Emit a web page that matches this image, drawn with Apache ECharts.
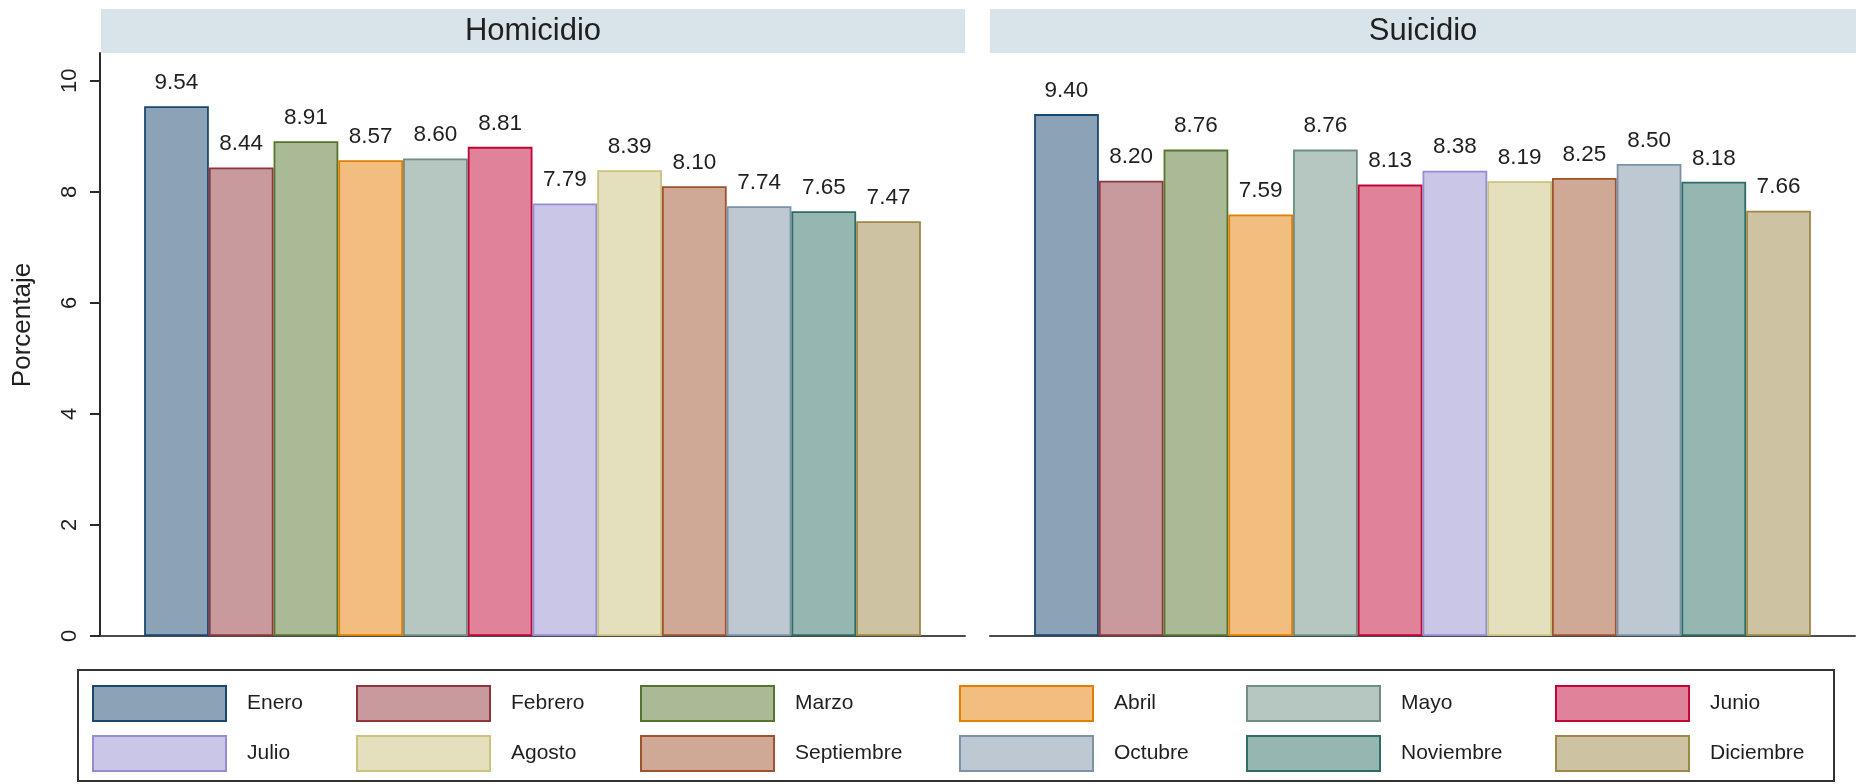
<!DOCTYPE html>
<html>
<head>
<meta charset="utf-8">
<style>
  html, body { margin: 0; padding: 0; background: #ffffff; }
  #chart { width: 1856px; height: 784px; }
</style>
<script src="https://cdn.jsdelivr.net/npm/echarts@6/dist/echarts.min.js"></script>
</head>
<body>
<div id="chart"></div>
<script>
// Monthly share (%) of deaths by cause
const months = ['Enero', 'Febrero', 'Marzo', 'Abril', 'Mayo', 'Junio',
                'Julio', 'Agosto', 'Septiembre', 'Octubre', 'Noviembre', 'Diciembre'];
const homicidio = [9.54, 8.44, 8.91, 8.57, 8.60, 8.81, 7.79, 8.39, 8.10, 7.74, 7.65, 7.47];
const suicidio  = [9.40, 8.20, 8.76, 7.59, 8.76, 8.13, 8.38, 8.19, 8.25, 8.50, 8.18, 7.66];
const panels = ['Homicidio', 'Suicidio'];
const yTicks = [0, 2, 4, 6, 8, 10];
const yTitle = 'Porcentaje';

// Outline colours and their half-intensity fills
const lineColors = ['#1a476f', '#90353b', '#55752f', '#e37e00', '#6e8e84', '#c10534',
                    '#938dd2', '#cac27e', '#a0522d', '#7b92a8', '#2d6d66', '#9c8847'];
const fillColors = ['#8ca3b7', '#c89a9d', '#aaba97', '#f1be80', '#b6c6c1', '#e08299',
                    '#c9c6e8', '#e4e0be', '#cfa896', '#bdc8d3', '#96b6b2', '#cdc3a3'];

const FONT = "'Liberation Sans', Arial, Helvetica, sans-serif";
const TEXT = '#1f1f1f';

const grids = [
  { left: 100, top: 53, width: 865, height: 583 },
  { left: 990, top: 53, width: 865, height: 583 }
];

const xAxes = grids.map((g, i) => ({
  gridIndex: i,
  type: 'category',
  data: [panels[i]],
  axisLine: { show: true, lineStyle: { color: '#4a4a4a', width: 2 } },
  axisTick: { show: false },
  axisLabel: { show: false },
  splitLine: { show: false }
}));

const yAxes = grids.map((g, i) => ({
  gridIndex: i,
  type: 'value',
  min: 0,
  max: 10.5,
  splitLine: { show: false },
  axisLine: { show: i === 0, lineStyle: { color: '#2a2a2a', width: 2 } },
  axisTick: { show: i === 0, length: 10, lineStyle: { color: '#2a2a2a', width: 2 }, customValues: yTicks },
  axisLabel: {
    show: i === 0, rotate: 90, margin: 19, customValues: yTicks,
    fontSize: 22, color: TEXT, fontFamily: FONT
  }
}));

const series = [];
[homicidio, suicidio].forEach((vals, gi) => {
  months.forEach((m, k) => {
    series.push({
      name: m,
      type: 'bar',
      xAxisIndex: gi,
      yAxisIndex: gi,
      data: [vals[k]],
      barGap: '0%',
      barCategoryGap: '10.2%',
      itemStyle: { color: fillColors[k], borderColor: lineColors[k], borderWidth: 1.8 },
      emphasis: { disabled: true },
      label: {
        show: true, position: 'top', distance: 12,
        formatter: p => p.value.toFixed(2),
        fontSize: 22.5, color: TEXT, fontFamily: FONT
      }
    });
  });
});

// Legend: two rows of six items inside a framed box
const legendCols = [92, 356, 640, 959, 1246, 1555];
const legendRows = [685, 735];
const legends = months.map((m, k) => ({
  data: [m],
  left: legendCols[k % 6],
  top: legendRows[Math.floor(k / 6)],
  padding: 0,
  icon: 'rect',
  itemWidth: 133,
  itemHeight: 35,
  selectedMode: false,
  itemStyle: { color: fillColors[k], borderColor: lineColors[k], borderWidth: 2 },
  textStyle: { fontSize: 21, color: TEXT, fontFamily: FONT, padding: [0, 0, 0, 16] }
}));

const graphic = [
  // panel header strips
  { type: 'rect', shape: { x: 101, y: 9, width: 864, height: 44 }, style: { fill: '#d9e4ea' }, silent: true },
  { type: 'rect', shape: { x: 990, y: 9, width: 866, height: 44 }, style: { fill: '#d9e4ea' }, silent: true },
  { type: 'text', x: 533, y: 31, style: { text: panels[0], fontSize: 31, fill: TEXT, fontFamily: FONT, align: 'center', verticalAlign: 'middle' } },
  { type: 'text', x: 1423, y: 31, style: { text: panels[1], fontSize: 31, fill: TEXT, fontFamily: FONT, align: 'center', verticalAlign: 'middle' } },
  // y-axis title
  { type: 'text', x: 23, y: 325, rotation: Math.PI / 2, style: { text: yTitle, fontSize: 26, fill: TEXT, fontFamily: FONT, align: 'center', verticalAlign: 'middle' } },
  // legend frame
  { type: 'rect', shape: { x: 78, y: 670, width: 1756, height: 111 }, style: { fill: 'none', stroke: '#333333', lineWidth: 2 }, silent: true }
];

const chart = echarts.init(document.getElementById('chart'), null, { renderer: 'canvas' });
chart.setOption({
  backgroundColor: '#ffffff',
  animation: false,
  textStyle: { fontFamily: FONT },
  grid: grids,
  xAxis: xAxes,
  yAxis: yAxes,
  legend: legends,
  series: series,
  graphic: graphic
});
</script>
</body>
</html>
